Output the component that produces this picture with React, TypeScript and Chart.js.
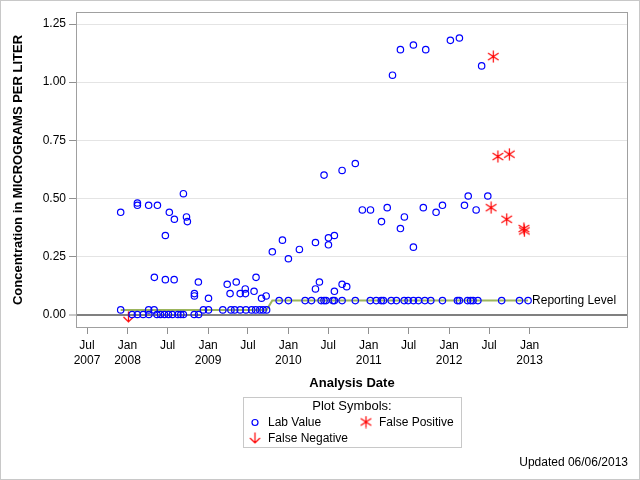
import React, { useEffect, useRef } from 'react';
import { Chart, registerables } from 'chart.js';

Chart.register(...registerables);

// ---------- data ----------
const labDates = [
  '2007-12-01', '2007-12-01', '2008-01-22', '2008-02-15', '2008-02-15', '2008-02-15', '2008-03-12',
  '2008-04-06', '2008-04-06', '2008-04-07', '2008-05-01', '2008-05-02', '2008-05-14', '2008-05-16',
  '2008-05-30', '2008-06-17', '2008-06-21', '2008-06-21', '2008-07-05', '2008-07-09', '2008-07-23',
  '2008-07-31', '2008-08-01', '2008-08-17', '2008-08-30', '2008-09-11', '2008-09-11', '2008-09-25',
  '2008-09-29', '2008-10-30', '2008-10-31', '2008-10-31', '2008-11-18', '2008-11-19', '2008-12-11',
  '2009-01-03', '2009-01-03', '2009-03-09', '2009-03-29', '2009-04-11', '2009-04-15', '2009-05-02',
  '2009-05-09', '2009-05-27', '2009-05-27', '2009-06-19', '2009-06-20', '2009-06-22', '2009-07-18',
  '2009-07-29', '2009-08-05', '2009-08-07', '2009-08-24', '2009-09-01', '2009-09-08', '2009-09-22',
  '2009-09-24', '2009-10-20', '2009-11-20', '2009-12-05', '2010-01-01', '2010-01-01', '2010-02-20',
  '2010-03-18', '2010-04-16', '2010-05-04', '2010-05-04', '2010-05-22', '2010-05-30', '2010-06-12',
  '2010-06-12', '2010-06-21', '2010-07-02', '2010-07-02', '2010-07-22', '2010-07-29', '2010-07-29',
  '2010-07-29', '2010-09-02', '2010-09-02', '2010-09-02', '2010-09-23', '2010-11-01', '2010-11-01',
  '2010-12-03', '2011-01-08', '2011-01-09', '2011-02-04', '2011-02-27', '2011-02-28', '2011-03-09',
  '2011-03-26', '2011-04-13', '2011-04-19', '2011-05-07', '2011-05-25', '2011-05-25', '2011-06-11',
  '2011-06-12', '2011-06-29', '2011-07-23', '2011-07-23', '2011-07-23', '2011-08-15', '2011-09-06',
  '2011-09-13', '2011-09-17', '2011-10-10', '2011-11-03', '2011-12-02', '2011-12-02', '2012-01-07',
  '2012-02-08', '2012-02-17', '2012-02-17', '2012-03-11', '2012-03-25', '2012-03-28', '2012-04-08',
  '2012-04-19', '2012-05-03', '2012-05-11', '2012-05-28', '2012-06-25', '2012-08-27', '2012-11-16',
  '2012-12-25',
];
const labValues = [
  0.02, 0.44, 0.0, 0.0, 0.48, 0.47, 0.0,
  0.02, 0.47, 0.0, 0.02, 0.16, 0.0, 0.47,
  0.0, 0.0, 0.34, 0.15, 0.0, 0.44, 0.0,
  0.15, 0.41, 0.0, 0.0, 0.0, 0.52, 0.42,
  0.40, 0.0, 0.09, 0.08, 0.14, 0.0, 0.02,
  0.02, 0.07, 0.02, 0.13, 0.09, 0.02, 0.02,
  0.14, 0.02, 0.09, 0.11, 0.09, 0.02, 0.02,
  0.10, 0.02, 0.16, 0.02, 0.07, 0.02, 0.08,
  0.02, 0.27, 0.06, 0.32, 0.24, 0.06, 0.28,
  0.06, 0.06, 0.31, 0.11, 0.14, 0.06, 0.60,
  0.06, 0.06, 0.33, 0.30, 0.06, 0.34, 0.10,
  0.06, 0.62, 0.13, 0.06, 0.12, 0.65, 0.06,
  0.45, 0.06, 0.45, 0.06, 0.06, 0.40, 0.06,
  0.46, 0.06, 1.03, 0.06, 1.14, 0.37, 0.06,
  0.42, 0.06, 1.16, 0.29, 0.06, 0.06, 0.46,
  0.06, 1.14, 0.06, 0.44, 0.47, 0.06, 1.18,
  0.06, 1.19, 0.06, 0.47, 0.06, 0.51, 0.06,
  0.06, 0.45, 0.06, 1.07, 0.51, 0.06, 0.06,
  0.06,
];
const fpDates = ['2012-07-10', '2012-07-20', '2012-08-10', '2012-09-19', '2012-10-01', '2012-12-06', '2012-12-08'];
const fpValues = [0.46, 1.11, 0.68, 0.41, 0.69, 0.37, 0.36];
const fnDates = ['2008-01-05'];
const fnValues = [-0.01];
const rlDates = ['2007-12-01', '2009-09-24', '2009-10-20', '2012-12-25'];
const rlValues = [0.02, 0.02, 0.06, 0.06];

const xTickDates = [
  '2007-07-01', '2008-01-01', '2008-07-01', '2009-01-01', '2009-07-01', '2010-01-01',
  '2010-07-01', '2011-01-01', '2011-07-01', '2012-01-01', '2012-07-01', '2013-01-01',
];
const xTickLabels = [
  ['Jul', '2007'], ['Jan', '2008'], ['Jul'], ['Jan', '2009'], ['Jul'], ['Jan', '2010'],
  ['Jul'], ['Jan', '2011'], ['Jul'], ['Jan', '2012'], ['Jul'], ['Jan', '2013'],
];
const yTicks = [0, 0.25, 0.5, 0.75, 1.0, 1.25];
const X_MIN = '2007-05-12';
const X_MAX = '2014-03-24';
const Y_MIN = -0.058;
const Y_MAX = 1.302;

const FONT = "'Liberation Sans', Arial, Helvetica, sans-serif";
const BLUE = '#0000ff';
const RED = '#ff0000';
const OLIVE = '#9cb55c';

const toPoints = (dates: string[], vals: number[]) =>
  dates.map((d, i) => ({ x: Date.parse(d), y: vals[i] }));

function makeStar(): HTMLCanvasElement {
  const c = document.createElement('canvas');
  c.width = 13;
  c.height = 13;
  const g = c.getContext('2d')!;
  g.strokeStyle = RED;
  g.lineWidth = 1.2;
  g.beginPath();
  g.moveTo(6.5, 0.5);
  g.lineTo(6.5, 12.5);
  g.moveTo(1.2, 3);
  g.lineTo(11.8, 10);
  g.moveTo(1.2, 10);
  g.lineTo(11.8, 3);
  g.stroke();
  return c;
}

function makeArrow(): HTMLCanvasElement {
  const c = document.createElement('canvas');
  c.width = 13;
  c.height = 12;
  const g = c.getContext('2d')!;
  g.strokeStyle = RED;
  g.lineWidth = 1.2;
  g.beginPath();
  g.moveTo(6.5, 0.5);
  g.lineTo(6.5, 11);
  g.moveTo(1.5, 6);
  g.lineTo(6.5, 11);
  g.lineTo(11.5, 6);
  g.stroke();
  return c;
}

const decorPlugin = {
  id: 'decor',
  afterDraw(chart: any) {
    const ctx: CanvasRenderingContext2D = chart.ctx;
    const a = chart.chartArea;
    ctx.save();
    // plot frame
    ctx.strokeStyle = '#a0a0a0';
    ctx.lineWidth = 1;
    ctx.strokeRect(a.left + 0.5, a.top + 0.5, a.right - a.left - 1, a.bottom - a.top - 1);

    // Reporting level curve label
    const rlMeta = chart.getDatasetMeta(3);
    const last = rlMeta.data[rlMeta.data.length - 1];
    ctx.fillStyle = '#000';
    ctx.font = `12px ${FONT}`;
    ctx.textAlign = 'left';
    ctx.textBaseline = 'middle';
    ctx.fillText(chart.data.datasets[3].label, last.x + 4, last.y);

    // legend box
    ctx.strokeStyle = '#c8c8c8';
    ctx.strokeRect(243.5, 397.5, 218, 50);
    ctx.textAlign = 'center';
    ctx.font = `13px ${FONT}`;
    ctx.fillText('Plot Symbols:', 352, 406);
    ctx.textAlign = 'left';
    ctx.font = `12px ${FONT}`;
    const ds = chart.data.datasets;
    // Lab value
    ctx.strokeStyle = BLUE;
    ctx.lineWidth = 1.2;
    ctx.beginPath();
    ctx.arc(255, 422.5, 3, 0, Math.PI * 2);
    ctx.stroke();
    ctx.fillText(ds[0].label, 268, 423);
    // False positive
    const star = ds[1].pointStyle as HTMLCanvasElement;
    ctx.drawImage(star, 366 - star.width / 2, 422 - star.height / 2);
    ctx.fillText(ds[1].label, 379, 423);
    // False negative
    const arrow = ds[2].pointStyle as HTMLCanvasElement;
    ctx.drawImage(arrow, 255 - arrow.width / 2, 438 - arrow.height / 2);
    ctx.fillText(ds[2].label, 268, 439);

    // outer image border
    ctx.strokeStyle = '#c8c8c8';
    ctx.lineWidth = 1;
    ctx.strokeRect(0.5, 0.5, chart.width - 1, chart.height - 1);
    ctx.restore();
  },
};

export default function App() {
  const ref = useRef<HTMLCanvasElement | null>(null);

  useEffect(() => {
    if (!ref.current) return;
    const star = makeStar();
    const arrow = makeArrow();
    Chart.defaults.font.family = FONT;
    const chart = new Chart(ref.current, {
      type: 'scatter',
      data: {
        datasets: [
          {
            label: 'Lab Value',
            data: toPoints(labDates, labValues),
            pointStyle: 'circle',
            pointRadius: 3.2,
            borderColor: BLUE,
            backgroundColor: 'rgba(0,0,0,0)',
            borderWidth: 1.2,
          },
          {
            label: 'False Positive',
            data: toPoints(fpDates, fpValues),
            pointStyle: star,
            pointRadius: 6,
            borderColor: RED,
            backgroundColor: RED,
          },
          {
            label: 'False Negative',
            data: toPoints(fnDates, fnValues),
            pointStyle: arrow,
            pointRadius: 6,
            borderColor: RED,
            backgroundColor: RED,
          },
          {
            label: 'Reporting Level',
            data: toPoints(rlDates, rlValues),
            showLine: true,
            pointRadius: 0,
            borderColor: OLIVE,
            backgroundColor: OLIVE,
            borderWidth: 2,
            fill: false,
          } as any,
        ],
      },
      options: {
        animation: false,
        responsive: false,
        events: [],
        layout: { padding: { top: 12, right: 12, bottom: 0, left: 0 } },
        plugins: {
          legend: { display: false },
          tooltip: { enabled: false },
          title: {
            display: true,
            text: 'Updated 06/06/2013',
            position: 'bottom',
            align: 'end',
            color: '#000',
            font: { size: 12, weight: 'normal', family: FONT },
            padding: { top: 64.6, bottom: 10 },
          },
        },
        scales: {
          x: {
            type: 'linear',
            min: Date.parse(X_MIN),
            max: Date.parse(X_MAX),
            afterBuildTicks: (scale: any) => {
              scale.ticks = xTickDates.map((d) => ({ value: Date.parse(d) }));
            },
            afterFit: (scale: any) => {
              scale.height = 63;
            },
            ticks: {
              autoSkip: false,
              maxRotation: 0,
              minRotation: 0,
              padding: 4,
              color: '#000',
              font: { size: 12, family: FONT, lineHeight: 1.25 },
              callback: (_v: any, i: number) => xTickLabels[i],
            },
            grid: {
              drawOnChartArea: false,
              drawTicks: true,
              tickLength: 6,
              tickColor: '#909090',
              color: '#909090',
            },
            border: { display: false },
            title: {
              display: true,
              text: 'Analysis Date',
              color: '#000',
              font: { size: 13, weight: 'bold', family: FONT },
              padding: { top: 0, bottom: 0 },
            },
          },
          y: {
            type: 'linear',
            min: Y_MIN,
            max: Y_MAX,
            afterBuildTicks: (scale: any) => {
              scale.ticks = yTicks.map((v) => ({ value: v }));
            },
            afterFit: (scale: any) => {
              scale.width = 76;
            },
            ticks: {
              padding: 3,
              color: '#000',
              font: { size: 12, family: FONT },
              callback: (v: any) => Number(v).toFixed(2),
            },
            grid: {
              drawTicks: true,
              tickLength: 7,
              tickColor: '#909090',
              tickWidth: 1,
              color: (c: any) => (c.tick && c.tick.value === 0 ? '#808080' : '#e4e4e4'),
              lineWidth: (c: any) => (c.tick && c.tick.value === 0 ? 2 : 1),
            },
            border: { display: false },
            title: {
              display: true,
              text: 'Concentration in MICROGRAMS PER LITER',
              color: '#000',
              font: { size: 13, weight: 'bold', family: FONT },
              padding: { top: 10.5, bottom: 0 },
            },
          },
        },
      } as any,
      plugins: [decorPlugin],
    });
    return () => chart.destroy();
  }, []);

  return (
    <div style={{ position: 'absolute', left: 0, top: 0, width: 640, height: 480, background: '#fff' }}>
      <canvas ref={ref} width={640} height={480} style={{ display: 'block' }} />
    </div>
  );
}
